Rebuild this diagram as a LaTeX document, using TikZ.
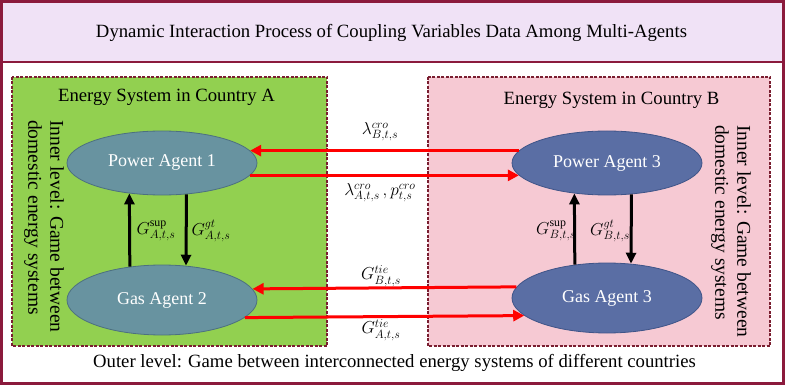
\documentclass[tikz,border=0pt]{standalone}
\usepackage{fontspec}
\setmainfont{Liberation Serif}
\usetikzlibrary{arrows.meta,shapes.geometric}
\definecolor{frame}{HTML}{8B1A3C}
\definecolor{titlefill}{HTML}{F0E2F6}
\definecolor{greenbox}{HTML}{92D050}
\definecolor{pinkbox}{HTML}{F6C9D3}
\definecolor{tealfill}{HTML}{6893A0}
\definecolor{tealdraw}{HTML}{4C7080}
\definecolor{bluefill}{HTML}{5A6EA4}
\definecolor{bluedraw}{HTML}{3F5488}
\definecolor{dashcol}{HTML}{7A1E30}
\tikzset{
  sysbox/.style={draw=dashcol, line width=1.1pt, dash pattern=on 3pt off 1.5pt},
  agentA/.style={ellipse, draw=tealdraw, line width=0.8pt, fill=tealfill, minimum width=190pt, inner sep=0pt, text=white, font=\fontsize{18}{20}\selectfont},
  agentB/.style={ellipse, draw=bluedraw, line width=0.8pt, fill=bluefill, minimum width=190pt, inner sep=0pt, text=white, font=\fontsize{18}{20}\selectfont},
  redarrow/.style={draw=red, line width=3pt, -{Triangle[length=11pt,width=11pt]}},
  blackarrow/.style={draw=black, line width=3pt, -{Triangle[length=11pt,width=10pt]}},
  lbl/.style={font=\fontsize{17}{19}\selectfont, inner sep=0pt},
  plain/.style={font=\fontsize{18.7}{21}\selectfont, inner sep=0pt},
  vtext/.style={font=\fontsize{19.5}{22}\selectfont, rotate=-90, align=left, anchor=north west, inner sep=0pt}
}
\begin{document}
\begin{tikzpicture}[x=1pt,y=-1pt]
\useasboundingbox (0,0) rectangle (785,385);
% outer frame and title
\fill[white] (0,0) rectangle (785,385);
\fill[titlefill] (1.5,1.5) rectangle (783.5,62);
\draw[frame, line width=1.5pt] (0,62) -- (785,62);
\draw[frame, line width=3pt] (1.5,1.5) rectangle (783.5,383.5);
\node[plain] (title) at (391.5,33) {Dynamic Interaction Process of Coupling Variables Data Among Multi-Agents};
% system boxes
\fill[greenbox] (12,77) rectangle (327,346);
\draw[sysbox] (12,77) rectangle (327,346);
\fill[pinkbox] (428,77) rectangle (770,346);
\draw[sysbox] (428,77) rectangle (770,346);
\node[plain] (sysA) at (166.5,97) {Energy System in Country A};
\node[plain] (sysB) at (611.5,100) {Energy System in Country B};
% vertical texts
\node[vtext] (vA) at (64,120) {Inner level: Game between\\domestic energy systems};
\node[vtext] (vB) at (751,125) {Inner level: Game between\\domestic energy systems};
% agents
\node[agentA, minimum height=64pt] (pa1) at (162,163) {Power Agent 1};
\node[agentA, minimum height=70pt] (ga2) at (162,300) {Gas Agent 2};
\node[agentB, minimum height=64pt] (pa3) at (607,163) {Power Agent 3};
\node[agentB, minimum height=70pt] (ga3) at (607,298) {Gas Agent 3};
% red arrows
\draw[redarrow] (pa3.172) -- (pa1.8);
\draw[redarrow] (pa1.-8) -- (pa3.188);
\draw[redarrow] (ga3.173) -- (ga2.7);
\draw[redarrow] (ga2.-12) -- (ga3.192);
% black arrows
\draw[blackarrow] (ga2.134) -- (pa1.-137);
\draw[blackarrow] (pa1.-52) -- (ga2.55);
\draw[blackarrow] (ga3.134) -- (pa3.-137);
\draw[blackarrow] (pa3.-52) -- (ga3.55);
% labels
\node[lbl] (l1) at (380,132) {$\lambda^{cro}_{B,t,s}$};
\node[lbl] (l2) at (380,193) {$\lambda^{cro}_{A,t,s}\,, p^{cro}_{t,s}$};
\node[lbl] (l3) at (381,276) {$G^{tie}_{B,t,s}$};
\node[lbl] (l4) at (381,330) {$G^{tie}_{A,t,s}$};
\node[lbl] (l5) at (156,231) {$G^{\mathrm{sup}}_{A,t,s}$};
\node[lbl] (l6) at (211,231) {$G^{gt}_{A,t,s}$};
\node[lbl] (l7) at (556,231) {$G^{\mathrm{sup}}_{B,t,s}$};
\node[lbl] (l8) at (610,231) {$G^{gt}_{B,t,s}$};
% bottom text
\node[plain] (outer) at (394.5,363) {Outer level: Game between interconnected energy systems of different countries};
\end{tikzpicture}
\end{document}
